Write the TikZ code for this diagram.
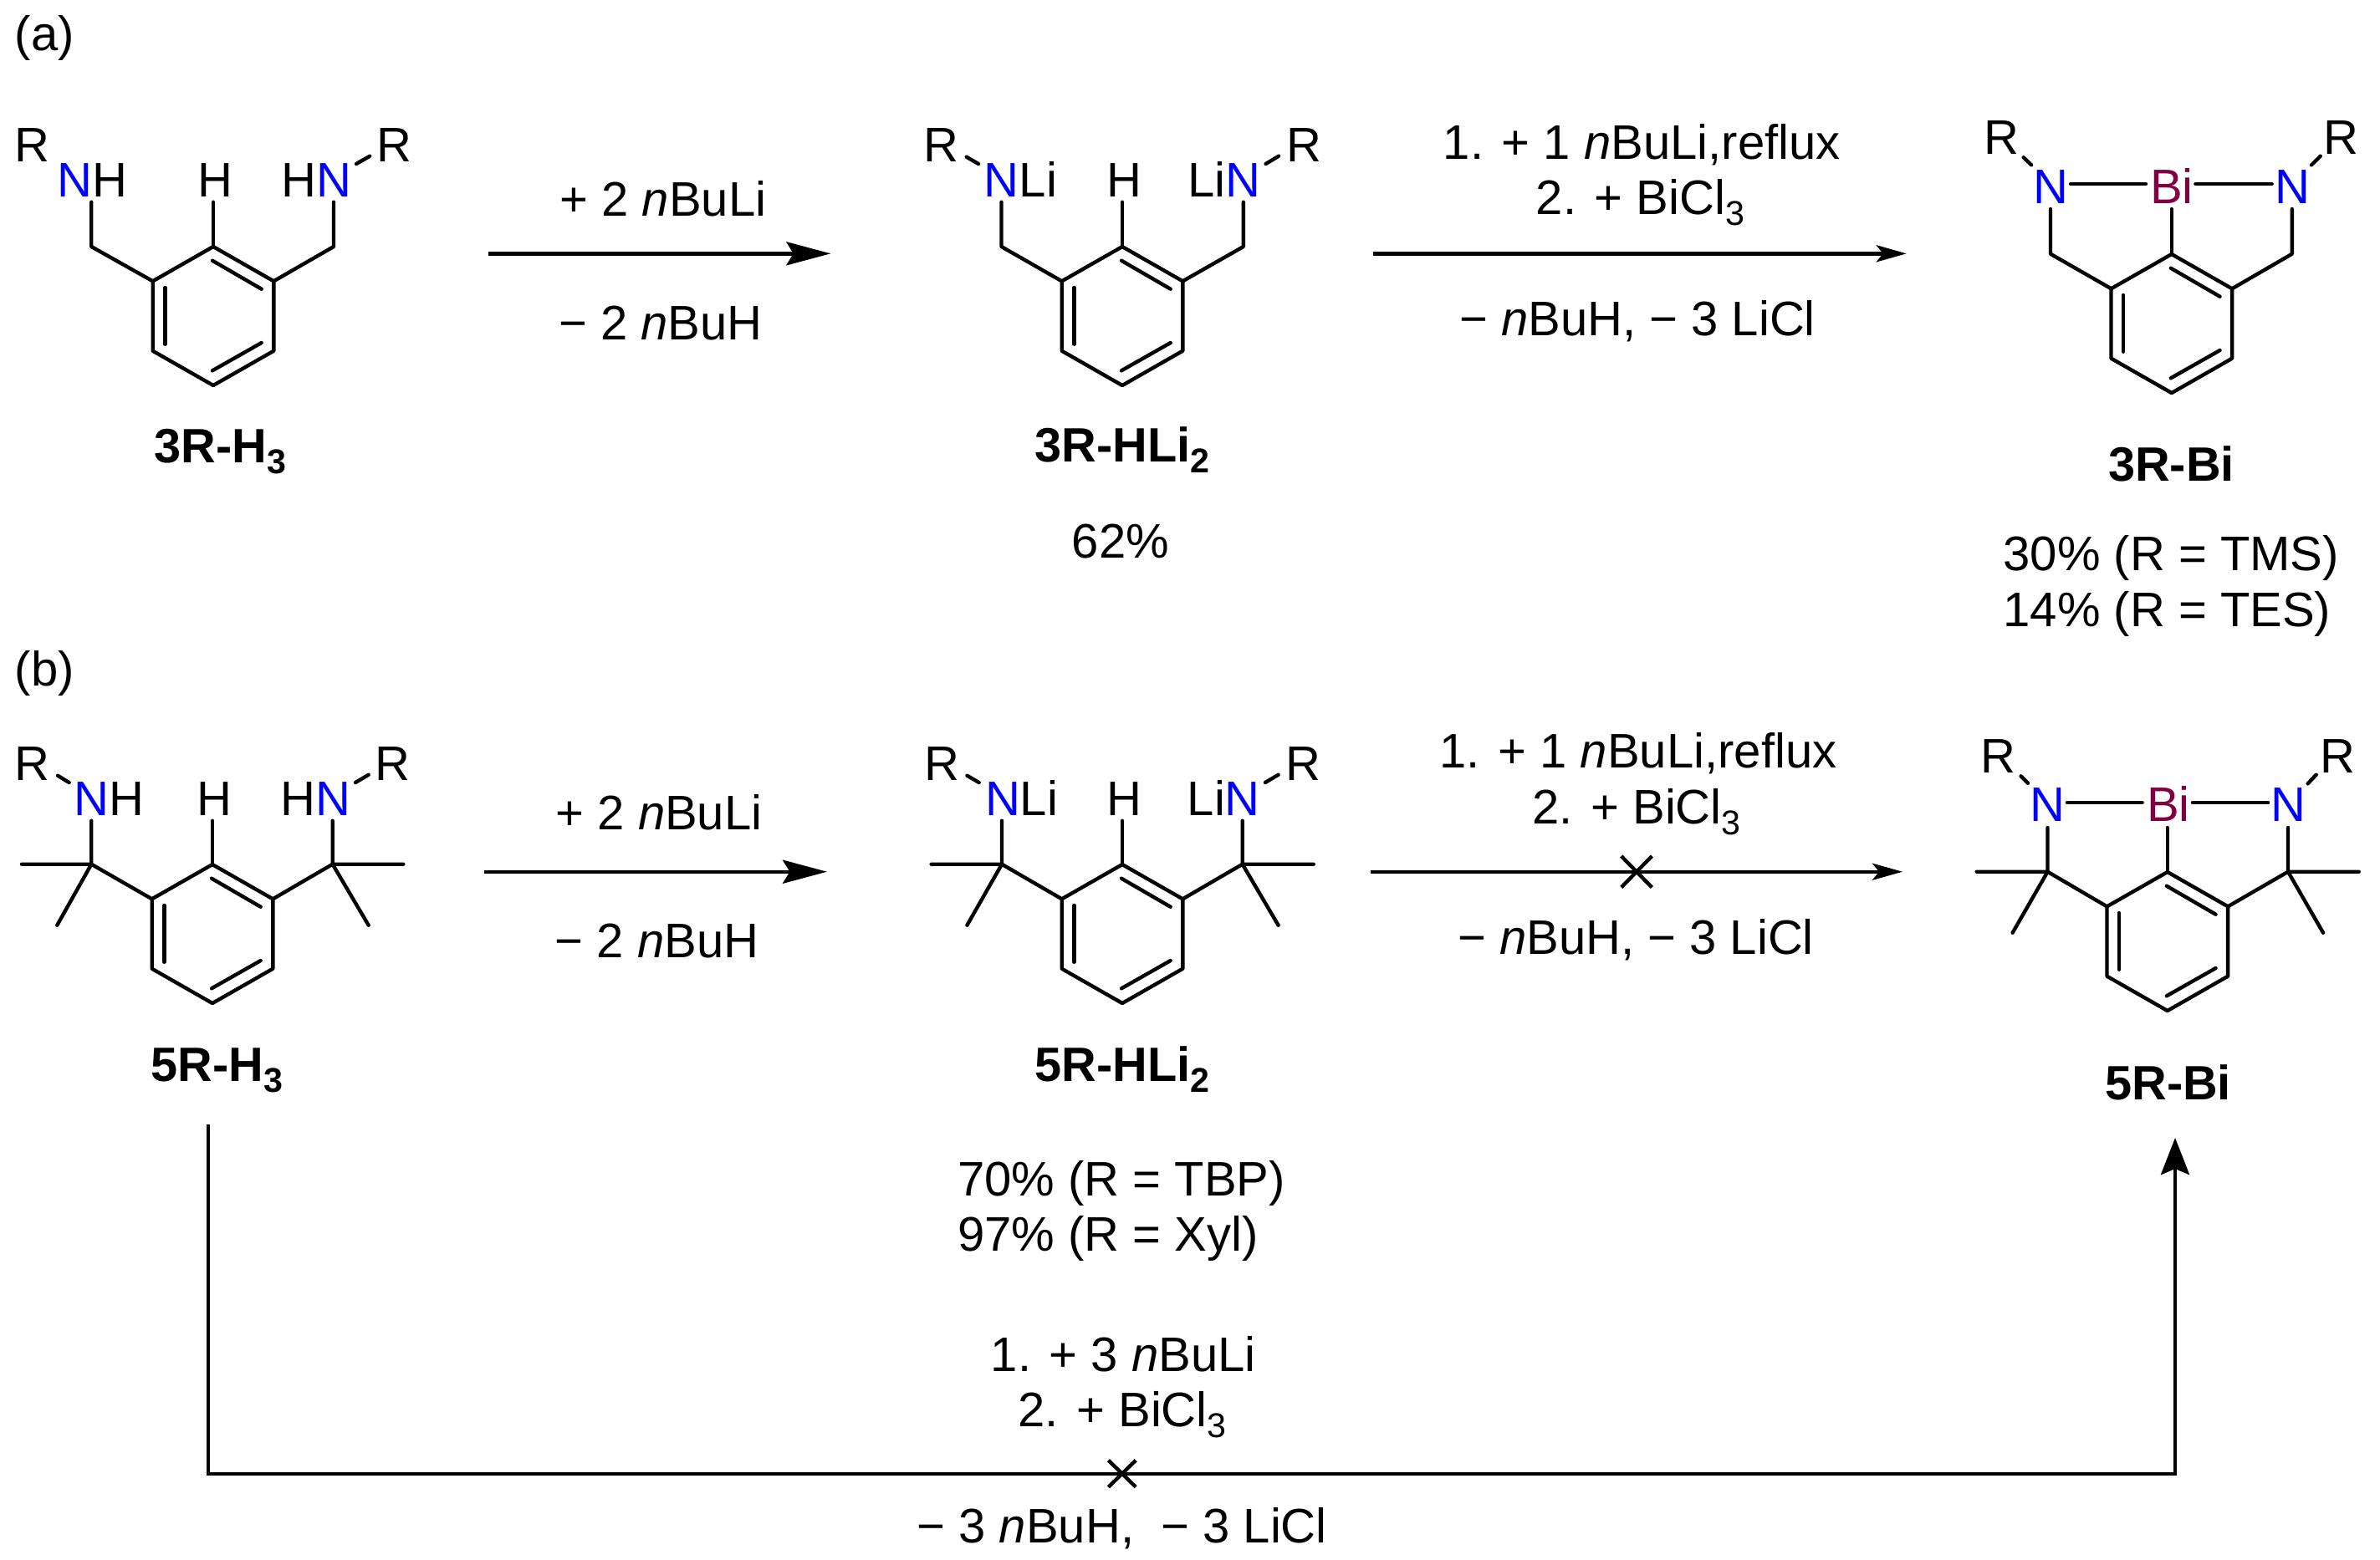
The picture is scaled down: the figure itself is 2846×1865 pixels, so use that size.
\documentclass[tikz,border=0pt]{standalone}
\usepackage{fontspec}
\setmainfont{Liberation Sans}
\usetikzlibrary{arrows.meta}
\definecolor{nblue}{RGB}{0,0,255}
\definecolor{bipurple}{RGB}{128,0,64}
\newcommand{\sbs}[1]{\raisebox{-3.7pt}{\fontsize{11.7}{12}\selectfont #1}}
\newcommand{\Nb}{{\color{nblue}N}}
\newcommand{\Bib}{{\color{bipurple}Bi}}
\newcommand{\nBu}{\textit{n}Bu}
\newcommand{\benzene}[3]{%
  \begin{scope}[shift={(#2,#3)},name prefix=#1-]
    \coordinate (r1) at (0,-83);
    \coordinate (r2) at (72.3,-41.7);
    \coordinate (r3) at (72.3,41.7);
    \coordinate (r4) at (0,83);
    \coordinate (r5) at (-72.3,41.7);
    \coordinate (r6) at (-72.3,-41.7);
    \coordinate (i1) at (-1,-66.3);
    \coordinate (i2) at (57.7,-32.3);
    \coordinate (i3) at (57.7,32);
    \coordinate (i4) at (-1,65.3);
    \coordinate (i5) at (-57.7,33.7);
    \coordinate (i6) at (-57.7,-34);
    \draw[bond] (r1) -- (r2) -- (r3) -- (r4) -- (r5) -- (r6) -- cycle;
    \draw[bond] (i1) -- (i2);
    \draw[bond] (i3) -- (i4);
    \draw[bond] (i5) -- (i6);
  \end{scope}}
\tikzset{
  txt/.style={inner sep=0pt,outer sep=0pt,anchor=base,font=\fontsize{16.5}{19}\selectfont},
  lab/.style={txt,font=\fontsize{16.4}{19}\selectfont\bfseries},
  atom/.style={txt,anchor=base west,xshift=-0.045cm},
  bond/.style={line width=1.25pt,line cap=round,line join=round,black},
  rxn/.style={line width=1.25pt,black},
  bighead/.style={rxn,-{Stealth[length=0.53cm,width=0.28cm,inset=0.085cm]}},
  smallhead/.style={rxn,-{Stealth[length=0.36cm,width=0.2cm,inset=0.08cm]}},
  vhead/.style={rxn,-{Stealth[length=0.44cm,width=0.34cm,inset=0.07cm]}},
  cross/.style={line width=1.25pt,black}
}
\begin{document}
\begin{tikzpicture}[x=0.01cm,y=-0.01cm]
\useasboundingbox[fill=white] (0,0) rectangle (2846,1865);

\node[txt,anchor=base west] (tagA) at (18,60) {(a)};
\node[txt,anchor=base west] (tagB) at (18,820) {(b)};

% ---------- 3R-H3
\benzene{A}{255}{378}
\node[atom] (A-Rl) at (21.7,193.3) {R};
\node[atom] (A-Nl) at (72.7,235) {\Nb H};
\node[atom] (A-H) at (240.5,235) {H};
\node[atom] (A-Nr) at (340.7,235) {H\Nb};
\node[atom] (A-Rr) at (455,193.3) {R};
\coordinate (A-a1) at (109.3,241.7);
\coordinate (A-cl) at (109.3,295);
\coordinate (A-a2) at (255,241.7);
\coordinate (A-a3) at (399,241.7);
\coordinate (A-cr) at (399,295);
\coordinate (A-a4) at (426,196);
\coordinate (A-a5) at (442.3,186.7);
\draw[bond] (A-a1) -- (A-cl) -- (A-r6);
\draw[bond] (A-a2) -- (A-r1);
\draw[bond] (A-a3) -- (A-cr) -- (A-r2);
\draw[bond] (A-a4) -- (A-a5);
\node[lab] (A-lab) at (263.5,553.3) {3R-H\sbs{3}};

% ---------- 3R-HLi2
\benzene{B}{1342}{378}
\node[atom] (B-Rl) at (1109,193.3) {R};
\node[atom] (B-Nl) at (1181.4,235) {\Nb Li};
\node[atom] (B-H) at (1327.5,235) {H};
\node[atom] (B-Nr) at (1425,235) {Li\Nb};
\node[atom] (B-Rr) at (1542.9,193.3) {R};
\coordinate (B-a1) at (1197.5,241.7);
\coordinate (B-cl) at (1197.5,295);
\coordinate (B-a2) at (1342,241.7);
\coordinate (B-a3) at (1486.8,241.7);
\coordinate (B-cr) at (1486.8,295);
\coordinate (B-a4) at (1513.6,196);
\coordinate (B-a5) at (1529,186.7);
\coordinate (B-a6) at (1155.7,187.7);
\coordinate (B-a7) at (1170,196);
\draw[bond] (B-a1) -- (B-cl) -- (B-r6);
\draw[bond] (B-a2) -- (B-r1);
\draw[bond] (B-a3) -- (B-cr) -- (B-r2);
\draw[bond] (B-a4) -- (B-a5);
\draw[bond] (B-a6) -- (B-a7);
\node[lab] (B-lab) at (1342,552.7) {3R-HLi\sbs{2}};
\node[txt] (B-yield) at (1340,667) {62\%};

% ---------- 3R-Bi
\benzene{C}{2596.8}{387}
\node[atom] (C-Rl) at (2377,184.3) {R};
\node[atom] (C-Nl) at (2435.8,243.3) {\Nb};
\node[atom] (C-Bi) at (2575.7,243.3) {\Bib};
\node[atom] (C-Nr) at (2725,243.3) {\Nb};
\node[atom] (C-Rr) at (2783,184.3) {R};
\coordinate (C-a1) at (2452,250);
\coordinate (C-cl) at (2452,303.7);
\coordinate (C-a2) at (2596.8,250);
\coordinate (C-a3) at (2740.8,250);
\coordinate (C-cr) at (2740.8,303.7);
\coordinate (C-a4) at (2764,197.3);
\coordinate (C-a5) at (2774.7,186.7);
\coordinate (C-a6) at (2419.7,188.3);
\coordinate (C-a7) at (2429,197.3);
\coordinate (C-b1) at (2476,220);
\coordinate (C-b2) at (2566,220);
\coordinate (C-b3) at (2625.4,220);
\coordinate (C-b4) at (2716.6,220);
\draw[bond] (C-a1) -- (C-cl) -- (C-r6);
\draw[bond] (C-a2) -- (C-r1);
\draw[bond] (C-a3) -- (C-cr) -- (C-r2);
\draw[bond] (C-a4) -- (C-a5);
\draw[bond] (C-a6) -- (C-a7);
\draw[bond] (C-b1) -- (C-b2);
\draw[bond] (C-b3) -- (C-b4);
\node[lab] (C-lab) at (2596.5,575) {3R-Bi};
\node[txt,anchor=base west] (C-y1) at (2395.5,682.3) {30\% (R = TMS)};
\node[txt,anchor=base west] (C-y2) at (2395.5,749) {14\% (R = TES)};

% ---------- 5R-H3
\benzene{D}{254}{1117}
\node[atom] (D-Rl) at (21.7,933.3) {R};
\node[atom] (D-Nl) at (93.3,975) {\Nb H};
\node[atom] (D-H) at (239.5,975) {H};
\node[atom] (D-Nr) at (340,975) {H\Nb};
\node[atom] (D-Rr) at (453.3,933.3) {R};
\coordinate (D-a1) at (109.3,981.7);
\coordinate (D-cl) at (109.3,1033.7);
\coordinate (D-a2) at (254,981.7);
\coordinate (D-a3) at (397.7,981.7);
\coordinate (D-cr) at (397.7,1033.7);
\coordinate (D-a4) at (425,936);
\coordinate (D-a5) at (440.7,926.7);
\coordinate (D-a6) at (69,927.7);
\coordinate (D-a7) at (82.7,936);
\coordinate (D-m1) at (26,1033.7);
\coordinate (D-m2) at (68.3,1106.7);
\coordinate (D-m3) at (482.3,1033.7);
\coordinate (D-m4) at (440.7,1106.7);
\draw[bond] (D-a1) -- (D-cl) -- (D-r6);
\draw[bond] (D-a2) -- (D-r1);
\draw[bond] (D-a3) -- (D-cr) -- (D-r2);
\draw[bond] (D-a4) -- (D-a5);
\draw[bond] (D-a6) -- (D-a7);
\draw[bond] (D-m1) -- (D-cl) -- (D-m2);
\draw[bond] (D-m3) -- (D-cr) -- (D-m4);
\node[lab] (D-lab) at (259.5,1293) {5R-H\sbs{3}};

% ---------- 5R-HLi2
\benzene{E}{1342}{1117}
\node[atom] (E-Rl) at (1110,933.3) {R};
\node[atom] (E-Nl) at (1182.5,975) {\Nb Li};
\node[atom] (E-H) at (1327.5,975) {H};
\node[atom] (E-Nr) at (1424.3,975) {Li\Nb};
\node[atom] (E-Rr) at (1542,933.3) {R};
\coordinate (E-a1) at (1198,981.7);
\coordinate (E-cl) at (1198,1033.7);
\coordinate (E-a2) at (1342,981.7);
\coordinate (E-a3) at (1485.7,981.7);
\coordinate (E-cr) at (1485.7,1033.7);
\coordinate (E-a4) at (1512.9,936);
\coordinate (E-a5) at (1528.6,926.7);
\coordinate (E-a6) at (1156.4,927.7);
\coordinate (E-a7) at (1170.7,936);
\coordinate (E-m1) at (1113.6,1033.7);
\coordinate (E-m2) at (1156.4,1106.7);
\coordinate (E-m3) at (1570.7,1033.7);
\coordinate (E-m4) at (1528.6,1106.7);
\draw[bond] (E-a1) -- (E-cl) -- (E-r6);
\draw[bond] (E-a2) -- (E-r1);
\draw[bond] (E-a3) -- (E-cr) -- (E-r2);
\draw[bond] (E-a4) -- (E-a5);
\draw[bond] (E-a6) -- (E-a7);
\draw[bond] (E-m1) -- (E-cl) -- (E-m2);
\draw[bond] (E-m3) -- (E-cr) -- (E-m4);
\node[lab] (E-lab) at (1342,1293) {5R-HLi\sbs{2}};
\node[txt,anchor=base west] (E-y1) at (1145,1430.7) {70\% (R = TBP)};
\node[txt,anchor=base west] (E-y2) at (1145,1496.7) {97\% (R = Xyl)};

% ---------- 5R-Bi
\benzene{F}{2591.8}{1126}
\node[atom] (F-Rl) at (2373,924.3) {R};
\node[atom] (F-Nl) at (2432.4,982.7) {\Nb};
\node[atom] (F-Bi) at (2571.7,982.7) {\Bib};
\node[atom] (F-Nr) at (2720.3,982.7) {\Nb};
\node[atom] (F-Rr) at (2778.7,924.3) {R};
\coordinate (F-a1) at (2448.5,990);
\coordinate (F-cl) at (2448.5,1042.7);
\coordinate (F-a2) at (2591.8,990);
\coordinate (F-a3) at (2736,990);
\coordinate (F-cr) at (2736,1042.7);
\coordinate (F-a4) at (2759.6,937.3);
\coordinate (F-a5) at (2769.7,926.7);
\coordinate (F-a6) at (2416.6,928.3);
\coordinate (F-a7) at (2425,936.7);
\coordinate (F-b1) at (2472,960);
\coordinate (F-b2) at (2561.6,960);
\coordinate (F-b3) at (2622,960);
\coordinate (F-b4) at (2712,960);
\coordinate (F-m1) at (2363.6,1042.7);
\coordinate (F-m2) at (2406.6,1115.7);
\coordinate (F-m3) at (2820.7,1042.7);
\coordinate (F-m4) at (2778,1115.7);
\draw[bond] (F-a1) -- (F-cl) -- (F-r6);
\draw[bond] (F-a2) -- (F-r1);
\draw[bond] (F-a3) -- (F-cr) -- (F-r2);
\draw[bond] (F-a4) -- (F-a5);
\draw[bond] (F-a6) -- (F-a7);
\draw[bond] (F-b1) -- (F-b2);
\draw[bond] (F-b3) -- (F-b4);
\draw[bond] (F-m1) -- (F-cl) -- (F-m2);
\draw[bond] (F-m3) -- (F-cr) -- (F-m4);
\node[lab] (F-lab) at (2592.7,1315) {5R-Bi};

% ---------- reaction arrows, row (a)
\coordinate (s1) at (584,303.3);
\coordinate (e1) at (993.3,303.3);
\draw[bighead] (s1) -- (e1);
\node[txt] (t1a) at (792.8,258) {+ 2 \nBu Li};
\node[txt] (t1b) at (790,406) {− 2 \nBu H};

\coordinate (s2) at (1642.3,303.3);
\coordinate (e2) at (2279.8,303.3);
\draw[smallhead] (s2) -- (e2);
\node[txt] (t2a) at (1963.3,190.7) {1. + 1 \nBu Li,reflux};
\node[txt] (t2b) at (1961.5,256.7) {2. + BiCl\sbs{3}};
\node[txt] (t2c) at (1958,401.7) {− \nBu H, − 3 LiCl};

% ---------- reaction arrows, row (b)
\coordinate (s3) at (579,1042.7);
\coordinate (e3) at (989,1042.7);
\draw[bighead] (s3) -- (e3);
\node[txt] (t3a) at (788,992.5) {+ 2 \nBu Li};
\node[txt] (t3b) at (785.5,1145) {− 2 \nBu H};

\coordinate (s4) at (1638.8,1042.7);
\coordinate (e4) at (2275,1042.7);
\draw[smallhead] (s4) -- (e4);
\coordinate (x4a) at (1938.7,1024);
\coordinate (x4b) at (1975.3,1061.4);
\coordinate (x4c) at (1975.3,1024);
\coordinate (x4d) at (1938.7,1061.4);
\draw[cross] (x4a) -- (x4b);
\draw[cross] (x4c) -- (x4d);
\node[txt] (t4a) at (1959,918.3) {1. + 1 \nBu Li,reflux};
\node[txt] (t4b) at (1957,985) {2. + BiCl\sbs{3}};
\node[txt] (t4c) at (1956,1141.7) {− \nBu H, − 3 LiCl};

% ---------- long arrow
\coordinate (s5) at (248.7,1345);
\coordinate (k5a) at (248.7,1762.7);
\coordinate (k5b) at (2601,1762.7);
\coordinate (e5) at (2601,1361);
\draw[vhead] (s5) -- (k5a) -- (k5b) -- (e5);
\coordinate (x5a) at (1325.4,1746.7);
\coordinate (x5b) at (1358.2,1778.7);
\coordinate (x5c) at (1358.2,1746.7);
\coordinate (x5d) at (1325.4,1778.7);
\draw[cross] (x5a) -- (x5b);
\draw[cross] (x5c) -- (x5d);
\node[txt] (t5a) at (1343.2,1640.7) {1. + 3 \nBu Li};
\node[txt] (t5b) at (1342,1706.7) {2. + BiCl\sbs{3}};
\node[txt] (t5c) at (1341.6,1845) {− 3 \nBu H,\ \ − 3 LiCl};
\end{tikzpicture}
\end{document}
